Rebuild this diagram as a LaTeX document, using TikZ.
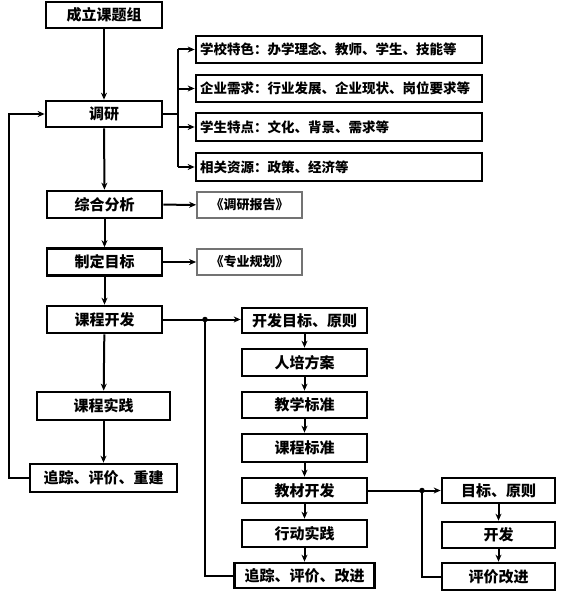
\documentclass[tikz,border=0pt]{standalone}
\usepackage{fontspec}
\newfontfamily\cjk{Noto Sans CJK SC}
\usetikzlibrary{arrows.meta,calc}
\begin{document}
\begin{tikzpicture}[x=1pt,y=-1pt,
  box/.style={draw=black,line width=2.7pt,fill=white,inner sep=0pt,font=\cjk\bfseries\fontsize{15}{17}\selectfont},
  lbox/.style={box,align=left,inner xsep=4pt,font=\cjk\bfseries\fontsize{13.5}{15}\selectfont},
  doc/.style={draw=black!55,line width=1.8pt,fill=white,inner sep=0pt,font=\cjk\bfseries\fontsize{13}{15}\selectfont},
  conn/.style={line width=2pt},
  arr/.style={line width=2pt,-{Stealth[length=7pt,width=6pt]}},
  dot/.style={circle,fill=black,inner sep=0pt,minimum size=5.5pt}]
\useasboundingbox (0,0) rectangle (560,594);
% left column
\node[box,minimum width=116pt,minimum height=26pt] (zl) at (104,15) {成立课题组};
\node[box,minimum width=116pt,minimum height=26pt] (dy) at (104,114) {调研};
\node[box,minimum width=115pt,minimum height=27pt] (zh) at (104.5,204.5) {综合分析};
\node[box,minimum width=115pt,minimum height=27pt] (zd) at (104.5,262) {制定目标};
\node[box,minimum width=115pt,minimum height=27pt] (kf) at (104.5,319.5) {课程开发};
\node[box,minimum width=133pt,minimum height=28pt] (ks) at (103.5,406) {课程实践};
\node[box,minimum width=147pt,minimum height=28pt] (zp) at (103.5,478) {追踪、评价、重建};
% research boxes
\node[lbox,text width=278pt,minimum height=27pt] (r1) at (339,49.5) {学校特色：办学理念、教师、学生、技能等};
\node[lbox,text width=278pt,minimum height=27pt] (r2) at (339,88.5) {企业需求：行业发展、企业现状、岗位要求等};
\node[lbox,text width=278pt,minimum height=28pt] (r3) at (339,127) {学生特点：文化、背景、需求等};
\node[lbox,text width=278pt,minimum height=28pt] (r4) at (339,167) {相关资源：政策、经济等};
% documents
\node[doc,minimum width=105pt,minimum height=26pt] (bg) at (249.5,205) {《调研报告》};
\node[doc,minimum width=105pt,minimum height=26pt] (gh) at (249.5,262) {《专业规划》};
% development chain
\node[box,minimum width=125pt,minimum height=25pt] (m1) at (304.5,320.5) {开发目标、原则};
\node[box,minimum width=125pt,minimum height=27pt] (m2) at (304.5,362.5) {人培方案};
\node[box,minimum width=125pt,minimum height=26pt] (m3) at (304.5,405) {教学标准};
\node[box,minimum width=125pt,minimum height=28pt] (m4) at (304.5,448) {课程标准};
\node[box,minimum width=125pt,minimum height=25pt] (m5) at (304.5,490.5) {教材开发};
\node[box,minimum width=125pt,minimum height=27pt] (m6) at (304.5,533.5) {行动实践};
\node[box,minimum width=140pt,minimum height=25pt] (m7) at (304.5,575.5) {追踪、评价、改进};
% textbook chain
\node[box,minimum width=113pt,minimum height=25pt] (n1) at (498.5,490.5) {目标、原则};
\node[box,minimum width=113pt,minimum height=26pt] (n2) at (498.5,535) {开发};
\node[box,minimum width=113pt,minimum height=27pt] (n3) at (498.5,576.5) {评价改进};
% helper coordinates
\coordinate (jx) at (178,0);
\coordinate (lx) at (9,0);
\coordinate (fx) at (205,0);
\coordinate (gx) at (422,0);
% main vertical flow
\draw[arr] (zl) -- (dy);
\draw[arr] (dy) -- (zh);
\draw[arr] (zh) -- (zd);
\draw[arr] (zd) -- (kf);
\draw[arr] (kf) -- (ks);
\draw[arr] (ks) -- (zp);
% research branch
\draw[conn] (dy.east) -- (dy.east -| jx);
\draw[conn] (jx |- r1.west) -- (jx |- r4.west);
\foreach \r in {r1,r2,r3,r4} \draw[arr] (jx |- \r.west) -- (\r.west);
% documents
\draw[arr] (zh) -- (bg);
\draw[arr] (zd) -- (gh);
% left feedback
\draw[arr] (zp.west) -- (zp.west -| lx) |- (dy.west);
% course development
\draw[arr] (kf.east) -- (kf.east -| m1.west);
\node[dot] (d1) at (fx |- kf.east) {};
\draw[conn] (m7.west) -| (d1);
\draw[arr] (m1) -- (m2);
\draw[arr] (m2) -- (m3);
\draw[arr] (m3) -- (m4);
\draw[arr] (m4) -- (m5);
\draw[arr] (m5) -- (m6);
\draw[arr] (m6) -- (m7);
% textbook development
\draw[arr] (m5) -- (n1);
\node[dot] (d2) at (gx |- m5.east) {};
\draw[conn] (n3.west) -| (d2);
\draw[arr] (n1) -- (n2);
\draw[arr] (n2) -- (n3);
\end{tikzpicture}
\end{document}
